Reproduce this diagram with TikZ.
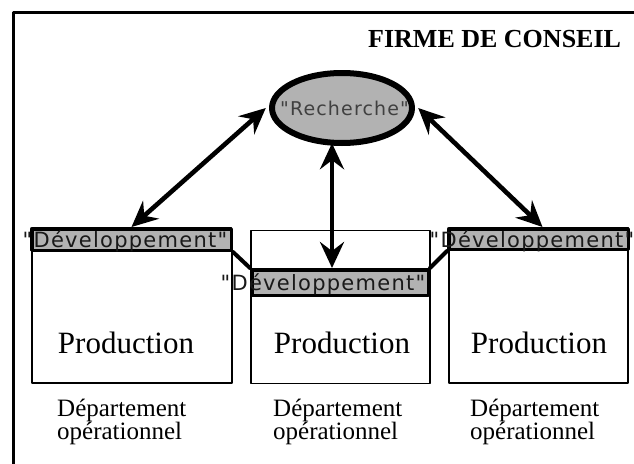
\documentclass[tikz,border=0pt]{standalone}
\usepackage{fontspec}
\setmainfont{Liberation Serif}
\newfontfamily\devfont[LetterSpace=6]{DejaVu Sans}
\usetikzlibrary{arrows.meta,shapes.geometric}
\definecolor{gris}{gray}{0.70}
\definecolor{grisfonce}{gray}{0.25}

\begin{document}
\begin{tikzpicture}[line cap=round,line join=round,x=1pt,y=-1pt,
	fleche/.style={line width=4.6pt,{Stealth[length=26pt,width=24pt,inset=9pt]}-{Stealth[length=26pt,width=24pt,inset=9pt]}},
	lien/.style={line width=4pt},
	prodbox/.style={draw,line width=1.6pt,inner sep=0pt,minimum width=179pt,minimum height=153pt},
	devbar/.style={draw,fill=gris,line width=3.5pt,inner sep=0pt},
	devtxt/.style={anchor=base,inner sep=0pt,text=black!90,font=\devfont\fontsize{21}{21}\selectfont},
	prodtxt/.style={anchor=base,inner sep=0pt,font=\fontsize{31}{31}\selectfont},
	deptxt/.style={anchor=base west,inner sep=0pt,align=left,font=\fontsize{25}{20}\selectfont}]
				\useasboundingbox (0,0) rectangle (634,463);
				\draw [line width=3pt] (13.,470.) |- (640.,12.5);
				\node [anchor=base west,inner sep=0pt,font=\bfseries\fontsize{26}{26}\selectfont] (firme) at (368.,47.) {FIRME DE CONSEIL};
				\node [prodbox,minimum width=200pt] (prodL) at (132.,306.5) {};
				\node [prodbox] (prodM) at (340.5,307.) {};
				\node [prodbox] (prodR) at (538.5,306.5) {};
				\node [devbar,minimum width=199.5pt,minimum height=21.5pt] (devL) at (131.5,239.5) {};
				\node [devbar,minimum width=176.5pt,minimum height=25.5pt] (devM) at (340.,282.5) {};
				\node [devbar,minimum width=179.5pt,minimum height=20.5pt] (devR) at (538.5,239.) {};
				\node [devtxt] (devtxtL) at (125.,247.) {"Développement"};
				\node [devtxt] (devtxtM) at (323.,290.) {"Développement"};
				\node [devtxt] (devtxtR) at (532.,247.) {"Développement"};
				\draw [lien] (devL.south east) -- (devM.north west);
				\draw [lien] (devM.north east) -- (devR.south west);
				\node [ellipse,fill=gris,inner sep=0pt,minimum width=140pt,minimum height=70pt] (rech) at (342.,108.) {};
				\node [anchor=base west,inner sep=0pt,text=grisfonce,font=\devfont\fontsize{19}{19}\selectfont] (rechtxt) at (280.,115.) {"Recherche"};
				\node [ellipse,draw,line width=6pt,inner sep=0pt,minimum width=140pt,minimum height=70pt] (rechbord) at (rech) {};
				\draw [fleche] ([xshift=-6pt]rech.west) -- (devL.north);
				\draw [fleche] ([xshift=6pt]rech.east) -- ([xshift=4pt]devR.north);
				\draw [fleche] ([xshift=-10pt]rech.south) -- ([xshift=-8pt]devM.north);
				\node [prodtxt] (prodtxtL) at (126.,353.) {Production};
				\node [prodtxt] (prodtxtM) at (342.,353.) {Production};
				\node [prodtxt] (prodtxtR) at (539.,353.) {Production};
				\node [deptxt] (depL) at (57.,439.) {Département\\[-1pt]opérationnel};
				\node [deptxt] (depM) at (273.,439.) {Département\\[-1pt]opérationnel};
				\node [deptxt] (depR) at (470.,439.) {Département\\[-1pt]opérationnel};
\end{tikzpicture}
\end{document}
